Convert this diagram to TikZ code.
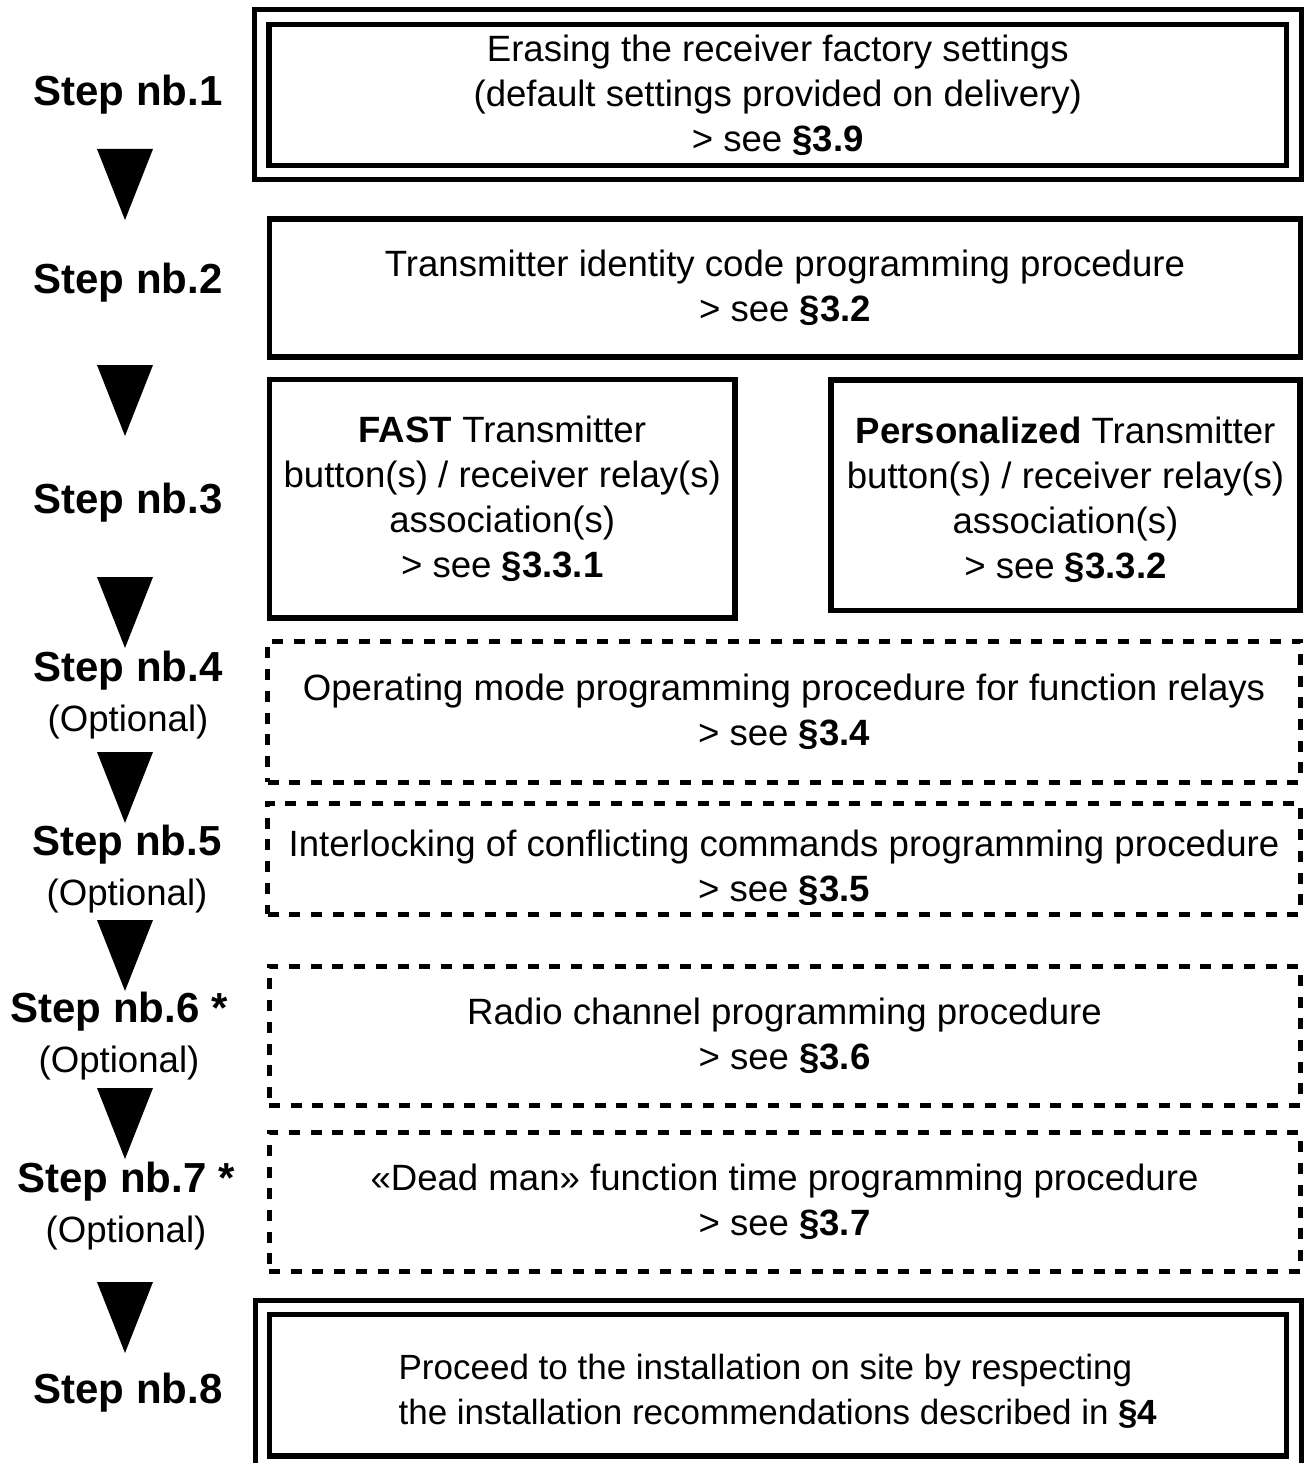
\documentclass[tikz,border=0pt]{standalone}
\usepackage{fontspec}
\setmainfont{Liberation Sans}
\usetikzlibrary{fit}

\begin{document}
\begin{tikzpicture}[
  x=1pt, y=-1pt,
  font=\fontsize{36.6}{45}\selectfont,
  stepbox/.style={
    draw,
    line width=5.5pt,
    outer sep=0pt,
    inner sep=0pt,
    align=center
  },
  optbox/.style={
    stepbox,
    line width=5pt,
    dash pattern=on 11pt off 10.7pt
  },
  boxtext/.style={align=center, inner sep=0pt},
  framebox/.style={draw, line width=5pt, outer sep=0pt, inner sep=14.5pt},
  steplabel/.style={font=\fontsize{42}{50}\selectfont\bfseries, align=center},
  marker/.style={fill=black}
]
\useasboundingbox (0,0) rectangle (1304,1463);

% Boxes, top to bottom
\node[stepbox, minimum width=1017.5pt, minimum height=141pt] (erase) at (777.75,95)
  {Erasing the receiver factory settings\\(default settings provided on delivery)\\> see \textbf{§3.9}};
\node[framebox, fit=(erase)] (erasefr) {};

\node[stepbox, minimum width=1031pt, minimum height=138pt] (ident) at (785,288)
  {Transmitter identity code programming procedure\\> see \textbf{§3.2}};

\node[stepbox, minimum width=465.5pt, minimum height=238.5pt] (fast) at (502.25,498.75)
  {\textbf{FAST} Transmitter\\button(s) / receiver relay(s)\\association(s)\\> see \textbf{§3.3.1}};
\node[stepbox, minimum width=469pt, minimum height=230.5pt] (perso) at (1065.5,495.25) {};
\node[boxtext] (persotxt) at ([yshift=-5pt]perso.center)
  {\textbf{Personalized} Transmitter\\button(s) / receiver relay(s)\\association(s)\\> see \textbf{§3.3.2}};

\node[optbox, minimum width=1033pt, minimum height=141pt] (opmode) at (784,711.5)
  {Operating mode programming procedure for function relays\\> see \textbf{§3.4}};
\node[optbox, minimum width=1033pt, minimum height=111pt] (interlock) at (784,858.5) {};
\node[boxtext] (interlocktxt) at ([yshift=-9pt]interlock.center)
  {Interlocking of conflicting commands programming procedure\\> see \textbf{§3.5}};
\node[optbox, minimum width=1031pt, minimum height=139pt] (radio) at (784.5,1035.5)
  {Radio channel programming procedure\\> see \textbf{§3.6}};
\node[optbox, minimum width=1031pt, minimum height=139pt] (deadman) at (784.5,1202)
  {«Dead man» function time programming procedure\\> see \textbf{§3.7}};

\node[stepbox, minimum width=1017pt, minimum height=141.5pt] (install) at (778,1385.25) {};
\node[boxtext, align=left, font=\fontsize{35}{45}\selectfont] (installtxt) at ([yshift=-6pt]install.center)
  {Proceed to the installation on site by respecting\\the installation recommendations described in \textbf{§4}};
\node[framebox, fit=(install)] (installfr) {};

% Step labels
\node[steplabel] (s1) at (128,95) {Step nb.1};
\node[steplabel] (s2) at (128,283) {Step nb.2};
\node[steplabel] (s3) at (128,503) {Step nb.3};
\node[steplabel] (s4) at (128,695) {Step nb.4\\{\fontsize{36.6}{50}\selectfont\mdseries (Optional)}};
\node[steplabel] (s5) at (127,869) {Step nb.5\\{\fontsize{36.6}{50}\selectfont\mdseries (Optional)}};
\node[steplabel] (s6) at (119,1036) {Step nb.6 *\\{\fontsize{36.6}{50}\selectfont\mdseries (Optional)}};
\node[steplabel] (s7) at (126,1206) {Step nb.7 *\\{\fontsize{36.6}{50}\selectfont\mdseries (Optional)}};
\node[steplabel] (s8) at (128,1393) {Step nb.8};

% Down triangles between the steps
\foreach \ty in {149,365,577,752,920,1088,1282}
  \fill[marker] (97,\ty) -- ++(56,0) -- ++(-28,71) -- cycle;

\end{tikzpicture}
\end{document}
